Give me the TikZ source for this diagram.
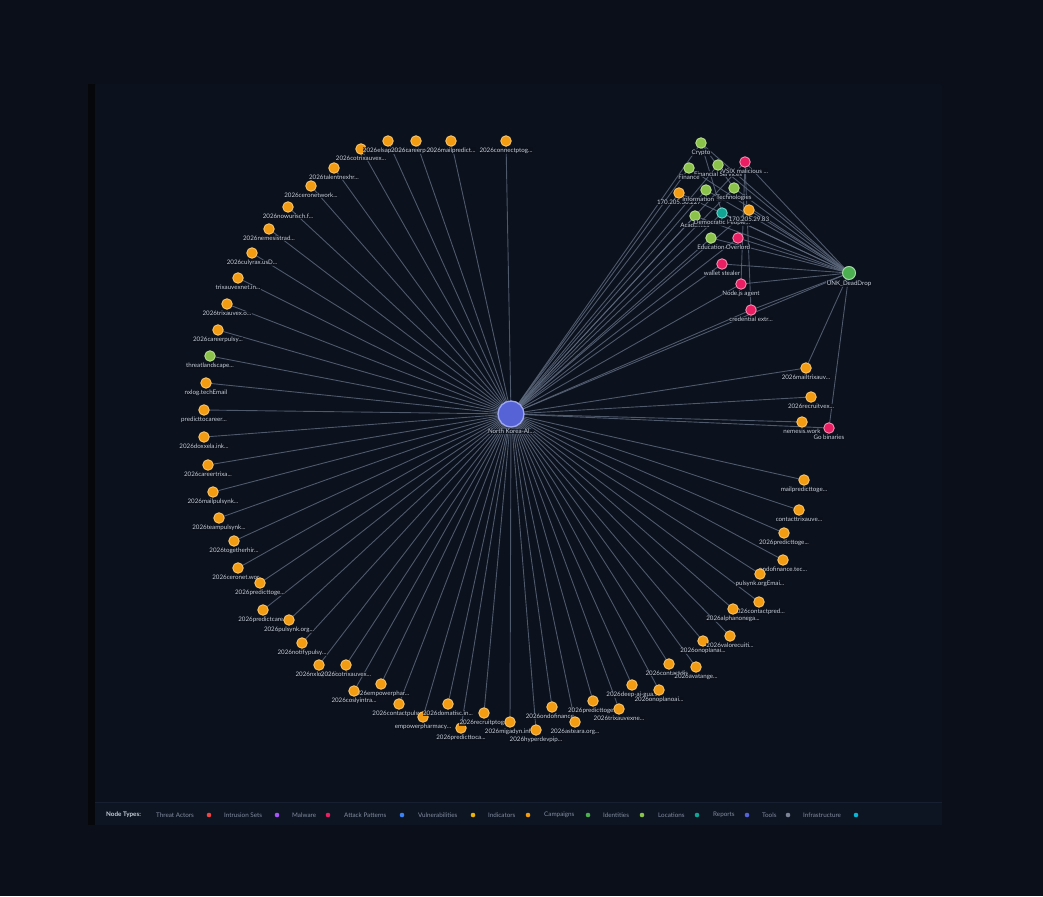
\documentclass[tikz,border=0pt]{standalone}
\usepackage{fontspec}
\setmainfont{Lato}
\definecolor{bgc}{HTML}{0A0F1A}
\definecolor{panelc}{HTML}{0B111D}
\definecolor{stripc}{HTML}{05070A}
\definecolor{barc}{HTML}{0D1422}
\definecolor{barline}{HTML}{172030}
\definecolor{edgec}{HTML}{5F6B7F}
\definecolor{lblc}{HTML}{C8CFDA}
\definecolor{legc}{HTML}{838EA0}
\definecolor{iocc}{HTML}{F39C12}
\definecolor{iocr}{HTML}{F7C46C}
\definecolor{idtc}{HTML}{8BC34A}
\definecolor{idtr}{HTML}{B8DC8F}
\definecolor{malc}{HTML}{E91E63}
\definecolor{malr}{HTML}{F48FB1}
\definecolor{locc}{HTML}{11A394}
\definecolor{locr}{HTML}{6FD3C8}
\definecolor{cmpc}{HTML}{4CAF50}
\definecolor{cmpr}{HTML}{A5D6A7}
\definecolor{repc}{HTML}{5563D6}
\definecolor{repr}{HTML}{9FA8F0}
\newcommand{\trunc}{...}
\pgfdeclarelayer{back}
\pgfdeclarelayer{edges}
\pgfsetlayers{back,edges,main}

\begin{document}
\begin{tikzpicture}[x=1pt,y=-1pt,
  dot/.style={circle,inner sep=0pt,minimum size=10.5pt,line width=0.9pt},
  ioc/.style={dot,fill=iocc,draw=iocr},
  idt/.style={dot,fill=idtc,draw=idtr},
  mal/.style={dot,fill=malc,draw=malr},
  loc/.style={dot,fill=locc,draw=locr},
  lbl/.style={font=\fontsize{6.2}{7}\selectfont,text=lblc,fill=bgc,fill opacity=0.8,text opacity=1,inner sep=0.4pt},
  edge/.style={draw=edgec,line width=0.9pt,opacity=0.8},
  leg/.style={font=\fontsize{6.3}{7}\selectfont,text=legc,inner sep=0pt,anchor=west}]
\useasboundingbox (0,0) rectangle (1043,896);
\begin{pgfonlayer}{back}
\fill[bgc] (0,0) rectangle (1043,896);
\fill[stripc] (88,84) rectangle (95,825);
\fill[panelc,rounded corners=2pt] (95,84) rectangle (942,825);
\fill[barc] (95,802) rectangle (942,825);
\draw[barline,line width=0.8pt] (95,802) -- (942,802);
\end{pgfonlayer}

\node[circle,inner sep=0pt,minimum size=26pt,fill=repc,draw=repr,line width=1.3pt,
  label={[lbl,label distance=1pt]below:North Korea-Al\trunc}] (nk) at (511,414) {};

\foreach \i/\x/\y/\s/\t in {
  1/361/149/ioc/2026cotrixauvex\trunc,
  2/388/141/ioc/2026elsapulsynk\trunc,
  3/416/141/ioc/2026careerpulsy\trunc,
  4/451/141/ioc/2026mailpredict\trunc,
  5/506/141/ioc/2026connectptog\trunc,
  6/334/168/ioc/2026talentnexhr\trunc,
  7/311/186/ioc/2026ceronetwork\trunc,
  8/288/207/ioc/2026nowurisch.f\trunc,
  9/269/229/ioc/2026nemesistrad\trunc,
  10/252/253/ioc/2026culyrax.usD\trunc,
  11/238/278/ioc/trixauvexnet.in\trunc,
  12/227/304/ioc/2026trixauvex.o\trunc,
  13/218/330/ioc/2026careerpulsy\trunc,
  14/210/356/idt/threatlandscape\trunc,
  15/206/383/ioc/nxlog.techEmail,
  16/204/410/ioc/predicttocareer\trunc,
  17/204/437/ioc/2026doxxela.ink\trunc,
  18/208/465/ioc/2026careertrixa\trunc,
  19/213/492/ioc/2026mailpulsynk\trunc,
  20/219/518/ioc/2026teampulsynk\trunc,
  21/234/541/ioc/2026togetherhir\trunc,
  22/238/568/ioc/2026ceronet.wor\trunc,
  23/260/583/ioc/2026predicttoge\trunc,
  24/263/610/ioc/2026predictcare\trunc,
  25/289/620/ioc/2026pulsynk.org\trunc,
  26/302/643/ioc/2026notifypulsy\trunc,
  27/319/665/ioc/2026nxlog.tech\trunc,
  28/346/665/ioc/2026cotrixauvex\trunc,
  29/381/684/ioc/2026empowerphar\trunc,
  30/354/691/ioc/2026coslyintra\trunc,
  31/399/704/ioc/2026contactpulsy\trunc,
  32/423/717/ioc/empowerpharmacy\trunc,
  33/448/704/ioc/2026domatisc.in\trunc,
  34/461/728/ioc/2026predicttoca\trunc,
  35/484/713/ioc/2026recruitptog\trunc,
  36/510/722/ioc/2026migadyn.inf\trunc,
  37/536/730/ioc/2026hyperdevpip\trunc,
  38/552/707/ioc/2026ondofinance\trunc,
  39/575/722/ioc/2026asteara.org\trunc,
  40/593/701/ioc/2026predicttoge\trunc,
  41/619/709/ioc/2026trixauvexne\trunc,
  42/632/685/ioc/2026deep-ai-gua\trunc,
  43/659/690/ioc/2026onoplanoai\trunc,
  44/669/664/ioc/2026contactdis\trunc,
  45/696/667/ioc/2026avatange\trunc,
  46/806/368/ioc/2026mailtrixauv\trunc,
  47/811/397/ioc/2026recruitvex\trunc,
  48/802/422/ioc/nemesis.work,
  49/804/480/ioc/mailpredicttoge\trunc,
  50/799/510/ioc/contacttrixauve\trunc,
  51/784/533/ioc/2026predicttoge\trunc,
  52/783/560/ioc/ondofinance.tec\trunc,
  53/760/574/ioc/pulsynk.orgEmai\trunc,
  54/759/602/ioc/2026contactpred\trunc,
  55/733/609/ioc/2026alphanonega\trunc,
  56/703/641/ioc/2026onoplanai\trunc,
  57/730/636/ioc/2026valorecuiti\trunc}
  \node[\s,label={[lbl,label distance=0.6pt]below:\t}] (i\i) at (\x,\y) {};

\node[mal,label={[lbl,label distance=0.6pt]below:Go binaries}] (gobin) at (829,428) {};

\node[idt,label={[lbl,label distance=0.6pt]below:Crypto}] (crypto) at (701,143) {};
\node[idt,label={[lbl,label distance=0.6pt]below:Financial Services}] (finserv) at (718,165) {};
\node[idt,label={[lbl,label distance=0.6pt]below:Finance}] (finance) at (689,168) {};
\node[mal,label={[lbl,label distance=0.6pt]below:VSIX malicious \trunc}] (vsix) at (745,162) {};
\node[ioc,label={[lbl,label distance=0.6pt]below:170.205.30.227}] (ipa) at (679,193) {};
\node[idt,label={[lbl,label distance=0.6pt]below:Information Sec\trunc}] (infosec) at (706,190) {};
\node[idt,label={[lbl,label distance=0.6pt]below:Technologies}] (tech) at (734,188) {};
\node[idt,label={[lbl,label distance=0.6pt]below:Academics}] (academ) at (695,216) {};
\node[loc,label={[lbl,label distance=0.6pt]below:Democratic People\trunc}] (dprk) at (722,213) {};
\node[ioc,label={[lbl,label distance=0.6pt]below:170.205.29.83}] (ipb) at (749,210) {};
\node[idt,label={[lbl,label distance=0.6pt]below:Education}] (edu) at (711,238) {};
\node[mal,label={[lbl,label distance=0.6pt]below:Overlord}] (overlord) at (738,238) {};
\node[mal,label={[lbl,label distance=0.6pt]below:wallet stealer}] (wallet) at (722,264) {};
\node[mal,label={[lbl,label distance=0.6pt]below:Node.js agent}] (nodejs) at (741,284) {};
\node[mal,label={[lbl,label distance=0.6pt]below:credential extr\trunc}] (cred) at (751,310) {};
\node[circle,inner sep=0pt,minimum size=13pt,fill=cmpc,draw=cmpr,line width=1pt,
  label={[lbl,label distance=0.6pt]below:UNK\_DeadDrop}] (unk) at (849,273) {};

\begin{pgfonlayer}{edges}
\foreach \i in {1,...,57}
  \draw[edge] (nk.center) -- (i\i.center);
\foreach \n in {gobin,crypto,finserv,finance,vsix,ipa,infosec,tech,academ,dprk,ipb,edu,overlord,wallet,nodejs,cred,unk}
  \draw[edge] (nk.center) -- (\n.center);
\foreach \n in {crypto,finserv,finance,vsix,ipa,infosec,tech,academ,dprk,ipb,edu,overlord,wallet,nodejs,cred,i46,gobin}
  \draw[edge] (unk.center) -- (\n.center);
\draw[edge] (crypto.center) -- (tech.center);
\draw[edge] (crypto.center) -- (dprk.center);
\draw[edge] (vsix.center) -- (nodejs.center);
\draw[edge] (vsix.center) -- (cred.center);
\end{pgfonlayer}

\node[font=\fontsize{6.3}{7}\selectfont\bfseries,text=lblc,inner sep=0pt,anchor=west] (legtitle) at (106,815) {Node Types:};
\foreach \t/\a/\d/\c in {Threat Actors/156/209/EF4444,Intrusion Sets/224/277/A855F7,Malware/292/328/E91E63,
  Attack Patterns/344/402/3B82F6,Vulnerabilities/418/473/EAB308,Indicators/488/528/F39C12,
  Campaigns/544/588/4CAF50,Identities/603/642/8BC34A,Locations/658/697/11A394,
  Reports/713/747/5563D6,Tools/762/788/7A8494,Infrastructure/803/856/06B6D4}{
  \definecolor{legdotc}{HTML}{\c}
  \node[leg] (leg\a) at (\a,815) {\t};
  \node[circle,inner sep=0pt,minimum size=4.6pt,fill=legdotc] (legdot\a) at (\d,815) {};
}
\end{tikzpicture}
\end{document}
